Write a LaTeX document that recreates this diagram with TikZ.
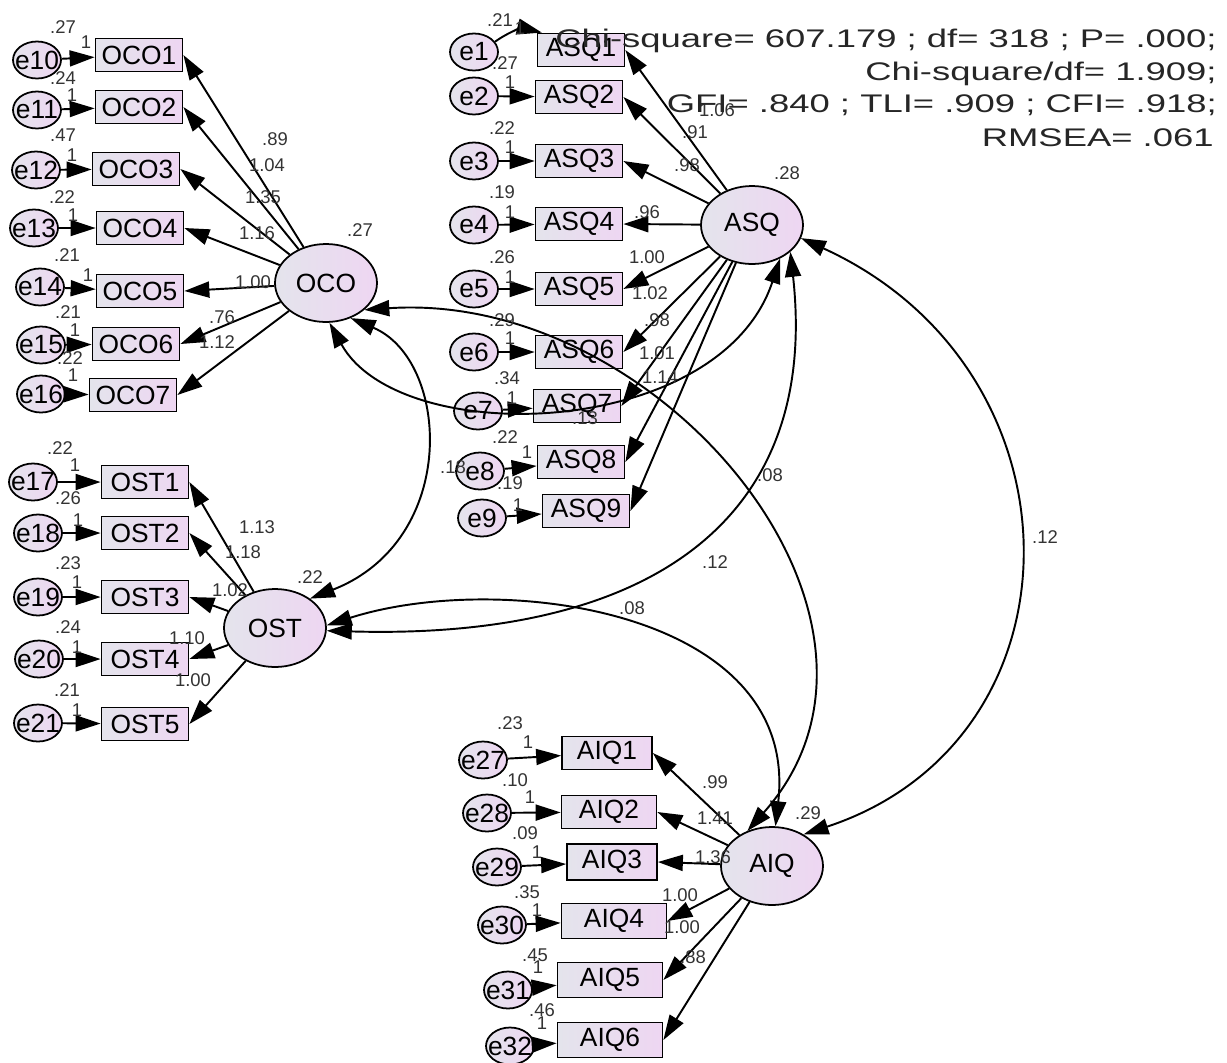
\documentclass[tikz,border=0pt]{standalone}
\usepackage{fontspec}
\setmainfont{Liberation Sans}
\usetikzlibrary{arrows.meta,shapes.geometric}
\definecolor{amosL}{RGB}{228,228,236}
\definecolor{amosR}{RGB}{238,214,242}
\newcommand{\nodefont}{\fontsize{15}{17}\selectfont}
\newcommand{\numfont}{\fontsize{10.5}{12}\selectfont}
\newcommand{\fitfont}{\fontsize{14.5}{17}\selectfont}

\begin{document}
\begin{tikzpicture}[
    x=0.02cm, y=-0.02cm,
    latent/.style={ellipse, draw, line width=1pt, minimum width=2.04cm, minimum height=1.56cm, inner sep=0pt, left color=amosL, right color=amosR, font=\nodefont},
    error/.style={ellipse, draw, line width=1pt, minimum width=0.96cm, minimum height=0.74cm, inner sep=-3pt, left color=amosL, right color=amosR, font=\nodefont},
    indicator/.style={rectangle, draw, line width=1pt, minimum width=1.74cm, minimum height=0.66cm, inner sep=0pt, left color=amosL, right color=amosR, font=\nodefont},
    wide/.style={indicator, minimum width=2.1cm, minimum height=0.7cm},
    arrow/.style={-{Triangle[length=5mm, width=3.2mm]}, line width=1.1pt},
    cov/.style={{Triangle[length=5mm, width=3.2mm]}-{Triangle[length=5mm, width=3.2mm]}, line width=1.1pt},
    num/.style={font=\numfont, inner sep=0pt, text=black!80}
]
\useasboundingbox (0,0) rectangle (1227,1062);

% Latent factors
\node[latent] (oco) at (326,283) {OCO};
\node[latent] (ost) at (275,628) {OST};
\node[latent] (asq) at (752,225) {ASQ};
\node[latent] (aiq) at (772,866) {AIQ};

% OCO items
\node[indicator] (oco1) at (139,55) {OCO1};
\node[indicator] (oco2) at (139,107) {OCO2};
\node[indicator] (oco3) at (136,169) {OCO3};
\node[indicator] (oco4) at (140,228) {OCO4};
\node[indicator] (oco5) at (140,291) {OCO5};
\node[indicator] (oco6) at (136,344) {OCO6};
\node[indicator] (oco7) at (133,395) {OCO7};
\node[error] (e10) at (37,60) {e10};
\node[error] (e11) at (37,110) {e11};
\node[error] (e12) at (36,170) {e12};
\node[error] (e13) at (34,228) {e13};
\node[error] (e14) at (40,287) {e14};
\node[error] (e15) at (41,345) {e15};
\node[error] (e16) at (41,394) {e16};

% OST items
\node[indicator] (ost1) at (145,482) {OST1};
\node[indicator] (ost2) at (145,533) {OST2};
\node[indicator] (ost3) at (145,597) {OST3};
\node[indicator] (ost4) at (145,659) {OST4};
\node[indicator] (ost5) at (145,724) {OST5};
\node[error] (e17) at (33,482) {e17};
\node[error] (e18) at (38,533) {e18};
\node[error] (e19) at (38,597) {e19};
\node[error] (e20) at (39,659) {e20};
\node[error] (e21) at (38,723) {e21};

% ASQ items
\node[indicator] (asq1) at (581,50) {ASQ1};
\node[indicator] (asq2) at (579,97) {ASQ2};
\node[indicator] (asq3) at (579,161) {ASQ3};
\node[indicator] (asq4) at (579,224) {ASQ4};
\node[indicator] (asq5) at (579,289) {ASQ5};
\node[indicator] (asq6) at (579,352) {ASQ6};
\node[indicator] (asq7) at (577,406) {ASQ7};
\node[indicator] (asq8) at (581,462) {ASQ8};
\node[indicator] (asq9) at (586,511) {ASQ9};
\node[error] (e1) at (474,52) {e1};
\node[error] (e2) at (474,96) {e2};
\node[error] (e3) at (474,161) {e3};
\node[error] (e4) at (474,225) {e4};
\node[error] (e5) at (474,289) {e5};
\node[error] (e6) at (474,352) {e6};
\node[error] (e7) at (478,411) {e7};
\node[error] (e8) at (480,471) {e8};
\node[error] (e9) at (482,518) {e9};

% AIQ items
\node[indicator, minimum width=1.8cm] (aiq1) at (607,753) {AIQ1};
\node[indicator, minimum width=1.9cm] (aiq2) at (609,812) {AIQ2};
\node[indicator, minimum width=1.8cm, minimum height=0.72cm] (aiq3) at (612,862) {AIQ3};
\node[wide] (aiq4) at (614,921) {AIQ4};
\node[wide] (aiq5) at (610,980) {AIQ5};
\node[wide] (aiq6) at (610,1040) {AIQ6};
\node[error] (e27) at (483,760) {e27};
\node[error] (e28) at (487,813) {e28};
\node[error] (e29) at (497,867) {e29};
\node[error] (e30) at (502,925) {e30};
\node[error] (e31) at (508,990) {e31};
\node[error] (e32) at (510,1046) {e32};

% Error paths
\foreach \e/\m in {e10/oco1, e11/oco2, e12/oco3, e13/oco4, e14/oco5, e15/oco6, e16/oco7,
    e17/ost1, e18/ost2, e19/ost3, e20/ost4, e21/ost5,
    e2/asq2, e3/asq3, e4/asq4, e5/asq5, e6/asq6, e7/asq7, e8/asq8, e9/asq9,
    e27/aiq1, e28/aiq2, e29/aiq3, e30/aiq4, e31/aiq5, e32/aiq6}
  \draw[arrow] (\e) -- (\m);
\draw[arrow] (e1) to[bend left=25] (asq1);

% Loadings
\foreach \m in {1,...,7} \draw[arrow] (oco) -- (oco\m.east);
\foreach \m in {1,...,5} \draw[arrow] (ost) -- (ost\m.east);
\foreach \m in {1,...,9} \draw[arrow] (asq) -- (asq\m.east);
\foreach \m in {1,...,6} \draw[arrow] (aiq) -- (aiq\m.east);

% Covariances
\draw[cov] (oco.-55) .. controls (450,360) and (460,540) .. (ost.40);
\draw[cov] (oco.-85) .. controls (400,450) and (720,440) .. (asq.-50);
\draw[cov] (oco.-35) .. controls (660,290) and (935,620) .. (aiq.125);
\draw[cov] (ost.-3) .. controls (650,640) and (820,520) .. (asq.-35);
\draw[cov] (ost.3) .. controls (500,570) and (800,610) .. (aiq.85);
\draw[cov] (asq.-15) .. controls (1090,370) and (1090,740) .. (aiq.45);

% Estimates: OCO
\node[num] (v10) at (63,27) {.27};   \node[num] (w10) at (86,42) {1};
\node[num] (v11) at (63,78) {.24};   \node[num] (w11) at (72,95) {1};
\node[num] (v12) at (63,135) {.47};  \node[num] (w12) at (72,155) {1};
\node[num] (v13) at (62,197) {.22};  \node[num] (w13) at (73,215) {1};
\node[num] (v14) at (67,255) {.21};  \node[num] (w14) at (88,275) {1};
\node[num] (v15) at (68,312) {.21};  \node[num] (w15) at (75,330) {1};
\node[num] (v16) at (70,358) {.22};  \node[num] (w16) at (73,375) {1};
\node[num] (voco) at (360,230) {.27};
\node[num] (loco1) at (275,139) {.89};
\node[num] (loco2) at (267,165) {1.04};
\node[num] (loco3) at (263,197) {1.35};
\node[num] (loco4) at (257,233) {1.16};
\node[num] (loco5) at (253,282) {1.00};
\node[num] (loco6) at (222,317) {.76};
\node[num] (loco7) at (217,342) {1.12};

% Estimates: OST
\node[num] (v17) at (60,448) {.22};  \node[num] (w17) at (75,465) {1};
\node[num] (v18) at (68,498) {.26};  \node[num] (w18) at (78,520) {1};
\node[num] (v19) at (68,563) {.23};  \node[num] (w19) at (77,582) {1};
\node[num] (v20) at (68,627) {.24};  \node[num] (w20) at (77,647) {1};
\node[num] (v21) at (67,690) {.21};  \node[num] (w21) at (77,710) {1};
\node[num] (vost) at (310,577) {.22};
\node[num] (lost1) at (257,527) {1.13};
\node[num] (lost2) at (243,552) {1.18};
\node[num] (lost3) at (230,590) {1.02};
\node[num] (lost4) at (187,638) {1.10};
\node[num] (lost5) at (193,680) {1.00};

% Estimates: ASQ
\node[num] (v1) at (500,20) {.21};   \node[num] (w1) at (520,28) {1};
\node[num] (v2) at (505,63) {.27};   \node[num] (w2) at (510,82) {1};
\node[num] (v3) at (502,128) {.22};  \node[num] (w3) at (510,147) {1};
\node[num] (v4) at (502,192) {.19};  \node[num] (w4) at (510,212) {1};
\node[num] (v5) at (502,257) {.26};  \node[num] (w5) at (510,277) {1};
\node[num] (v6) at (502,320) {.29};  \node[num] (w6) at (510,338) {1};
\node[num] (v7) at (507,378) {.34};  \node[num] (w7) at (512,398) {1};
\node[num] (v8) at (505,437) {.22};  \node[num] (w8) at (527,452) {1};
\node[num] (v9) at (510,483) {.19};  \node[num] (w9) at (518,505) {1};
\node[num] (vasq) at (787,173) {.28};
\node[num] (lasq1) at (717,110) {1.06};
\node[num] (lasq2) at (695,132) {.91};
\node[num] (lasq3) at (687,165) {.98};
\node[num] (lasq4) at (647,212) {.96};
\node[num] (lasq5) at (647,257) {1.00};
\node[num] (lasq6) at (650,293) {1.02};
\node[num] (lasq7) at (657,320) {.98};
\node[num] (lasq8) at (657,353) {1.01};
\node[num] (lasq9) at (660,377) {1.14};

% Estimates: AIQ
\node[num] (v27) at (510,723) {.23};  \node[num] (w27) at (528,742) {1};
\node[num] (v28) at (515,780) {.10};  \node[num] (w28) at (530,797) {1};
\node[num] (v29) at (525,833) {.09};  \node[num] (w29) at (537,852) {1};
\node[num] (v30) at (527,892) {.35};  \node[num] (w30) at (537,910) {1};
\node[num] (v31) at (535,955) {.45};  \node[num] (w31) at (538,967) {1};
\node[num] (v32) at (542,1010) {.46}; \node[num] (w32) at (542,1023) {1};
\node[num] (vaiq) at (808,813) {.29};
\node[num] (laiq1) at (715,782) {.99};
\node[num] (laiq2) at (715,818) {1.41};
\node[num] (laiq3) at (713,857) {1.36};
\node[num] (laiq4) at (680,895) {1.00};
\node[num] (laiq5) at (682,927) {1.00};
\node[num] (laiq6) at (693,957) {.88};

% Covariance estimates
\node[num] (c1) at (453,467) {.18};
\node[num] (c2) at (585,418) {.13};
\node[num] (c3) at (770,475) {.08};
\node[num] (c4) at (715,562) {.12};
\node[num] (c5) at (632,608) {.08};
\node[num] (c6) at (1045,537) {.12};

% Fit indices
\node[anchor=base east, inner sep=0pt, text=black!85] (fit1) at (1217,47) {\fitfont\scalebox{1.43}[1]{Chi-square= 607.179 ; df= 318 ; P= .000;}};
\node[anchor=base east, inner sep=0pt, text=black!85] (fit2) at (1217,80) {\fitfont\scalebox{1.43}[1]{Chi-square/df= 1.909;}};
\node[anchor=base east, inner sep=0pt, text=black!85] (fit3) at (1217,112) {\fitfont\scalebox{1.43}[1]{GFI= .840 ; TLI= .909 ; CFI= .918;}};
\node[anchor=base east, inner sep=0pt, text=black!85] (fit4) at (1214,146) {\fitfont\scalebox{1.43}[1]{RMSEA= .061}};
\end{tikzpicture}
\end{document}
